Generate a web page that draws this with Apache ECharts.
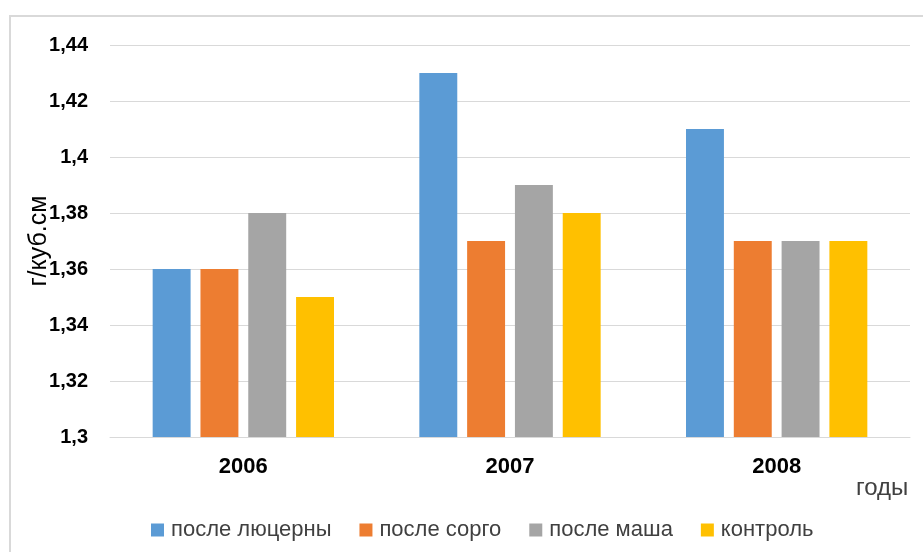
<!DOCTYPE html>
<html lang="ru">
<head>
    <meta charset="utf-8">
    <title>Плотность почвы</title>
    <script src="https://cdn.jsdelivr.net/npm/echarts@6/dist/echarts.min.js"></script>
    <style>
        html, body { margin: 0; padding: 0; background: #fff; }
    </style>
</head>
<body>
<div id="main" style="width: 923px;height:552px;"></div>

<script type="text/javascript">
    var years = ['2006', '2007', '2008'];
    var seriesNames = ['после люцерны', 'после сорго', 'после маша', 'контроль'];
    var lucerne = [1.36, 1.43, 1.41];
    var sorghum = [1.36, 1.37, 1.37];
    var mash = [1.38, 1.39, 1.37];
    var control = [1.35, 1.38, 1.37];
    var colors = ['#5B9BD5', '#ED7D31', '#A5A5A5', '#FFC000'];

    var myChart = echarts.init(document.getElementById('main'));
    var font = 'Liberation Sans';

    var values = [lucerne, sorghum, mash, control];
    var series = values.map(function (d, i) {
        return {
            name: seriesNames[i],
            type: 'bar',
            data: d,
            barGap: '26%',
            barCategoryGap: '32%',
            itemStyle: { color: colors[i] }
        };
    });

    var option = {
        animation: false,
        color: colors,
        textStyle: { fontFamily: font },
        graphic: [
            {
                type: 'rect',
                shape: { x: 10, y: 16, width: 940, height: 560 },
                style: { fill: 'none', stroke: '#d9d9d9', lineWidth: 2 }
            },
            {
                type: 'text',
                left: 856,
                top: 476,
                style: { text: 'годы', fill: '#404040', font: '24px ' + font }
            }
        ],
        legend: {
            data: seriesNames,
            left: 146,
            top: 514,
            itemWidth: 13,
            itemHeight: 13,
            itemGap: 28,
            icon: 'rect',
            textStyle: { color: '#404040', fontSize: 22, fontFamily: font, padding: [0, 0, 0, 2] }
        },
        grid: { left: 110, right: 13, top: 45, bottom: 115 },
        xAxis: {
            type: 'category',
            data: years,
            axisTick: { show: false },
            axisLine: { lineStyle: { color: '#d9d9d9' } },
            axisLabel: { color: '#000', fontWeight: 'bold', fontSize: 22, margin: 19 }
        },
        yAxis: {
            type: 'value',
            min: 1.3,
            max: 1.44,
            interval: 0.02,
            name: 'г/куб.см',
            nameLocation: 'middle',
            nameGap: 58,
            nameMoveOverlap: false,
            nameTextStyle: { color: '#000', fontSize: 25 },
            axisLine: { show: false },
            axisTick: { show: false },
            splitLine: { lineStyle: { color: '#d9d9d9' } },
            axisLabel: {
                color: '#000',
                fontWeight: 'bold',
                fontSize: 20,
                margin: 22,
                formatter: function (v) {
                    return Number(v.toFixed(2)).toString().replace('.', ',');
                }
            }
        },
        series: series
    };

    option && myChart.setOption(option);
</script>
</body>
</html>
